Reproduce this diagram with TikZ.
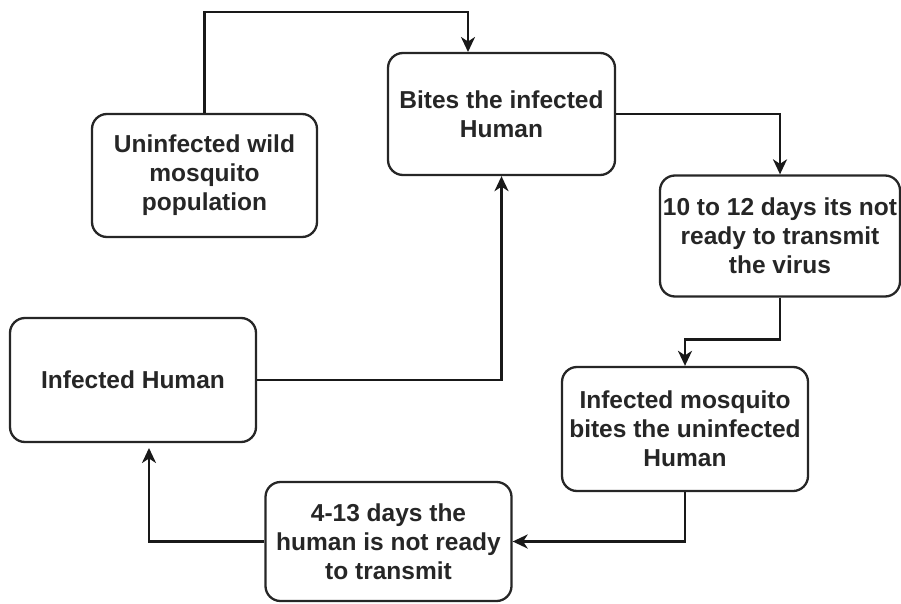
\documentclass[tikz,border=0pt]{standalone}
\usepackage{fontspec}
\setmainfont{Liberation Sans}
\usetikzlibrary{arrows.meta}
\tikzset{
  box/.style={draw=black!85, line width=2.3pt, rounded corners=15pt, align=center,
    inner sep=0pt, font=\bfseries\fontsize{24.5}{29}\selectfont, text=black!85},
  arr/.style={line width=2.4pt, draw=black!90, -{Stealth[length=15pt,width=14pt,inset=4.5pt]}}
}
\begin{document}
\begin{tikzpicture}[x=1pt,y=-1pt]
\useasboundingbox (0,0) rectangle (901,604);
% boxes (centre, size)
\node[box, minimum width=225pt, minimum height=123pt] (b1) at (204.5,175.5) {Uninfected wild\\mosquito\\population};
\node[box, minimum width=227pt, minimum height=122pt] (b2) at (501.5,114) {Bites the infected\\Human};
\node[box, minimum width=240pt, minimum height=121pt] (b3) at (780,236) {10 to 12 days its not\\ready to transmit\\the virus};
\node[box, minimum width=246pt, minimum height=124pt] (b4) at (685,429) {Infected mosquito\\bites the uninfected\\Human};
\node[box, minimum width=246pt, minimum height=119pt] (b5) at (388.5,541.5) {4-13 days the\\human is not ready\\to transmit};
\node[box, minimum width=246pt, minimum height=124pt] (b6) at (133,380) {Infected Human};
% helper coordinates
\coordinate (top) at (0,12);
\coordinate (b2in) at (468,52);
\coordinate (b6in) at (149,448);
% connectors
\draw[arr] (b1.north) -- (b1.north |- top) -| (b2in);
\draw[arr] (b2.east) -| (b3.north);
\draw[arr] (b3.south) -- ++(0,42) -| (b4.north);
\draw[arr] (b4.south) |- (b5.east);
\draw[arr] (b5.west) -| (b6in);
\draw[arr] (b6.east) -| (b2.south);
\end{tikzpicture}
\end{document}
